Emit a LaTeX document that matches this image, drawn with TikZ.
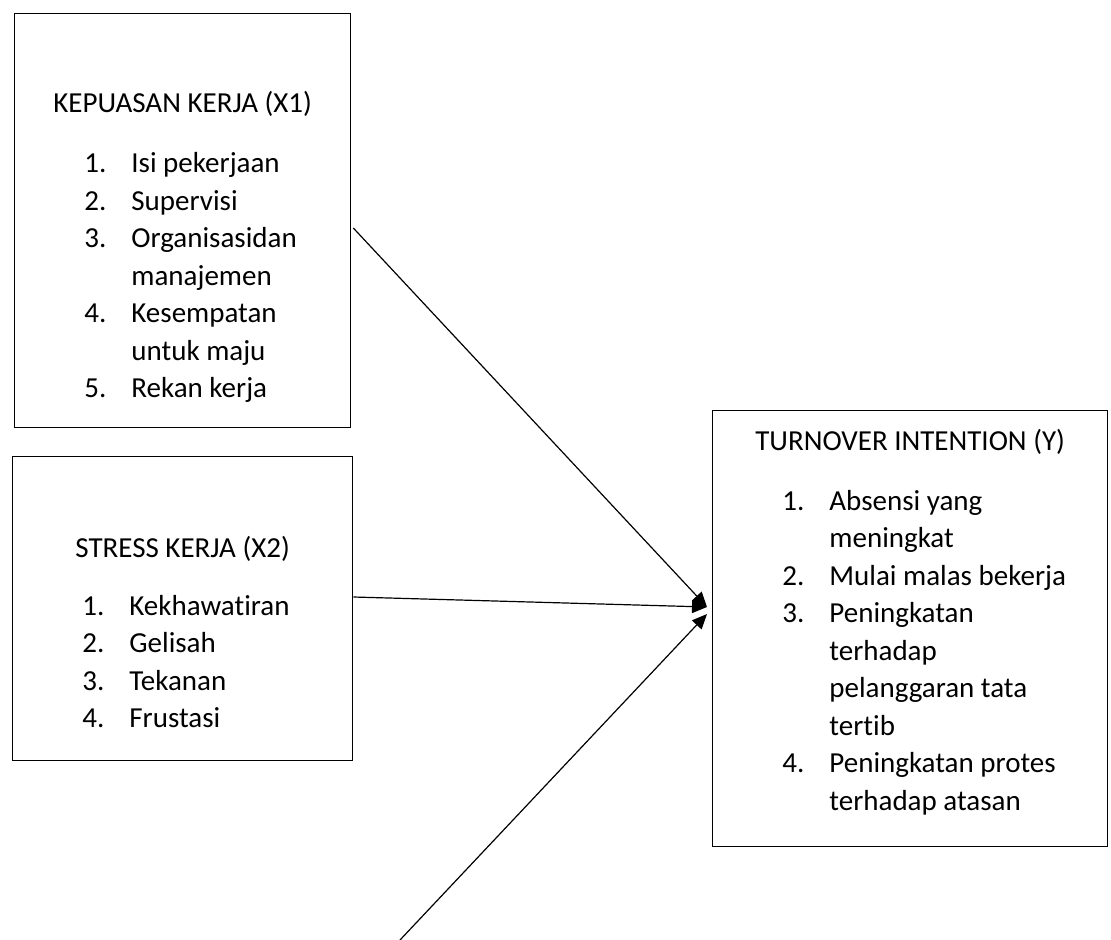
\documentclass[tikz,border=0pt]{standalone}
\usepackage{fontspec}
\setmainfont{Carlito}[Ligatures=NoCommon]
\usepackage{tikz}
\usetikzlibrary{arrows.meta,calc}

\newcommand{\itemlist}[1]{\begin{tabular}[t]{@{}p{23.5pt}@{}l@{}}#1\end{tabular}}

\begin{document}
\begin{tikzpicture}[
    x=0.5pt, y=-0.5pt,
    every node/.style={font=\fontsize{14.5}{18.75}\selectfont, inner sep=0pt},
    varbox/.style={draw, line width=0.65pt, rectangle, anchor=north west},
    arr/.style={draw, line width=0.6pt, -{Triangle[length=7.5pt,width=6.5pt]}}
  ]
  \useasboundingbox (0,0) rectangle (1111,940);

  % boxes
  \node[varbox, minimum width=168pt, minimum height=207pt] (x1) at (14,13) {};
  \node[varbox, minimum width=170pt, minimum height=152pt] (x2) at (12,456) {};
  \node[varbox, minimum width=197.5pt, minimum height=218pt] (ty) at (712,410) {};

  % titles
  \node[anchor=base] (x1title) at ($(x1.north)+(0,100)$) {KEPUASAN KERJA (X1)};
  \node[anchor=base] (x2title) at ($(x2.north)+(0,101)$) {STRESS KERJA (X2)};
  \node[anchor=base] (tytitle) at ($(ty.north)+(0,40)$) {TURNOVER INTENTION (Y)};

  % indicators
  \node[anchor=base west] (x1list) at ($(x1.north west)+(70,160)$) {\itemlist{
    1. & Isi pekerjaan\\
    2. & Supervisi\\
    3. & Organisasidan\\
       & manajemen\\
    4. & Kesempatan\\
       & untuk maju\\
    5. & Rekan kerja}};
  \node[anchor=base west] (x2list) at ($(x2.north west)+(70,159)$) {\itemlist{
    1. & Kekhawatiran\\
    2. & Gelisah\\
    3. & Tekanan\\
    4. & Frustasi}};
  \node[anchor=base west] (tylist) at ($(ty.north west)+(70,100)$) {\itemlist{
    1. & Absensi yang\\
       & meningkat\\
    2. & Mulai malas bekerja\\
    3. & Peningkatan\\
       & terhadap\\
       & pelanggaran tata\\
       & tertib\\
    4. & Peningkatan protes\\
       & terhadap atasan}};

  % arrows
  \coordinate (in12) at ($(ty.north west)+(-5,197)$);
  \coordinate (in3) at ($(ty.north west)+(-5,204)$);
  \coordinate (s3) at (400,940);
  \draw[arr] ($(x1.north east)+(2,215)$) -- (in12);
  \draw[arr] ($(x2.north east)+(0,141)$) -- (in12);
  \draw[arr] (s3) -- (in3);
\end{tikzpicture}
\end{document}
